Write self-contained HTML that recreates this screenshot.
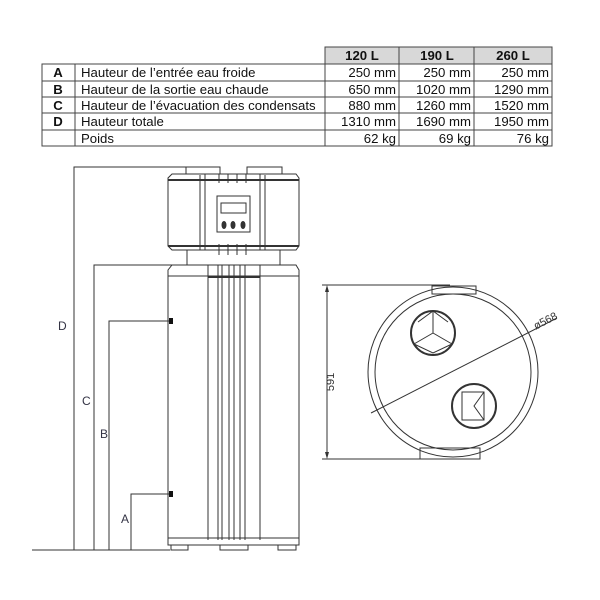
<!DOCTYPE html><html><head><style>body{margin:0;background:#fff}svg{display:block}text{font-family:"Liberation Sans",sans-serif}</style></head><body>
<svg width="600" height="600" viewBox="0 0 600 600" xmlns="http://www.w3.org/2000/svg">
<rect width="600" height="600" fill="#fff"/>
<g stroke="#444" stroke-width="1" fill="none">
<rect x="325" y="47" width="227" height="17" fill="#d8d8d8"/>
<rect x="42" y="64" width="510" height="82"/>
<line x1="325" y1="47" x2="325" y2="146"/><line x1="399" y1="47" x2="399" y2="146"/><line x1="474" y1="47" x2="474" y2="146"/>
<line x1="75" y1="64" x2="75" y2="146"/>
<line x1="42" y1="81" x2="552" y2="81"/><line x1="42" y1="97" x2="552" y2="97"/><line x1="42" y1="113" x2="552" y2="113"/><line x1="42" y1="130" x2="552" y2="130"/>
</g>
<g font-size="13.2" fill="#111">
<g font-weight="bold" text-anchor="middle"><text x="362" y="60">120 L</text><text x="437" y="60">190 L</text><text x="513" y="60">260 L</text>
<text x="58" y="77">A</text><text x="58" y="94">B</text><text x="58" y="110">C</text><text x="58" y="126">D</text></g>
<text x="81" y="77">Hauteur de l’entrée eau froide</text><text x="81" y="94">Hauteur de la sortie eau chaude</text><text x="81" y="110">Hauteur de l’évacuation des condensats</text><text x="81" y="126">Hauteur totale</text><text x="81" y="143">Poids</text>
<g text-anchor="end"><text x="396" y="77">250 mm</text><text x="471" y="77">250 mm</text><text x="549" y="77">250 mm</text>
<text x="396" y="94">650 mm</text><text x="471" y="94">1020 mm</text><text x="549" y="94">1290 mm</text>
<text x="396" y="110">880 mm</text><text x="471" y="110">1260 mm</text><text x="549" y="110">1520 mm</text>
<text x="396" y="126">1310 mm</text><text x="471" y="126">1690 mm</text><text x="549" y="126">1950 mm</text>
<text x="396" y="143">62 kg</text><text x="471" y="143">69 kg</text><text x="549" y="143">76 kg</text></g>
</g>
<g stroke="#333" stroke-width="1" fill="none">
<line x1="32" y1="550" x2="170" y2="550"/>
<polyline points="74,550 74,167 186,167"/><polyline points="94,550 94,265 187,265"/>
<polyline points="109,550 109,321 170,321"/><polyline points="131,550 131,494 170,494"/>
</g>
<rect x="169" y="318" width="4" height="6" fill="#111"/><rect x="169" y="491" width="4" height="6" fill="#111"/>
<g font-size="12" fill="#334"><text x="58" y="330">D</text><text x="82" y="405">C</text><text x="100" y="438">B</text><text x="121" y="523">A</text></g>
<g stroke="#333" stroke-width="1" fill="none">
<rect x="186" y="167" width="34" height="7"/><rect x="247" y="167" width="35" height="7"/>
<polygon points="172,174 296,174 299,178 299,246 296,250 172,250 168,246 168,178"/>
<line x1="168" y1="180" x2="299" y2="180" stroke-width="2"/><line x1="168" y1="246" x2="299" y2="246" stroke-width="2"/>
<line x1="200" y1="175" x2="200" y2="250"/><line x1="205" y1="174" x2="205" y2="250"/>
<line x1="260" y1="174" x2="260" y2="250"/><line x1="265" y1="175" x2="265" y2="250"/>
<g><line x1="219" y1="174" x2="219" y2="183"/><line x1="228" y1="174" x2="228" y2="183"/><line x1="237" y1="174" x2="237" y2="183"/><line x1="246" y1="174" x2="246" y2="183"/>
<line x1="219" y1="244" x2="219" y2="255"/><line x1="228" y1="244" x2="228" y2="255"/><line x1="237" y1="244" x2="237" y2="255"/><line x1="246" y1="244" x2="246" y2="255"/></g>
<rect x="217" y="196" width="33" height="36"/><rect x="221" y="203" width="25" height="10"/>
<rect x="187" y="250" width="93" height="15"/>
<polygon points="172,265 296,265 299,270 299,538 168,538 168,270"/>
<line x1="168" y1="276" x2="299" y2="276"/>
<line x1="208" y1="265" x2="208" y2="540"/><line x1="260" y1="265" x2="260" y2="540"/>
<line x1="218" y1="265" x2="218" y2="540"/><line x1="222" y1="265" x2="222" y2="540"/><line x1="229" y1="265" x2="229" y2="540"/><line x1="234" y1="265" x2="234" y2="540"/><line x1="240" y1="265" x2="240" y2="540"/><line x1="245" y1="265" x2="245" y2="540"/>
<line x1="208" y1="277" x2="260" y2="277" stroke-width="2"/>
<rect x="168" y="538" width="131" height="7"/>
<rect x="171" y="545" width="17" height="5"/><rect x="220" y="545" width="28" height="5"/><rect x="278" y="545" width="18" height="5"/>
</g>
<g fill="#333"><ellipse cx="224" cy="225" rx="2.5" ry="4"/><ellipse cx="233" cy="225" rx="2.5" ry="4"/><ellipse cx="243" cy="225" rx="2.5" ry="4"/></g>
<g stroke="#333" stroke-width="1" fill="none">
<line x1="322" y1="285" x2="450" y2="285"/><line x1="322" y1="459" x2="450" y2="459"/>
<line x1="327" y1="287" x2="327" y2="457"/>
<circle cx="453" cy="372" r="85"/><circle cx="453" cy="372" r="78"/>
<rect x="432" y="286" width="44" height="8"/>
<rect x="420" y="448" width="60" height="11"/>
<line x1="371" y1="413" x2="557" y2="318"/>
<circle cx="433" cy="333" r="22" stroke-width="2"/>
<line x1="433" y1="333" x2="433" y2="311"/><line x1="433" y1="333" x2="414" y2="344"/><line x1="433" y1="333" x2="452" y2="344"/>
<polyline points="418,322 433,311 448,322"/><polyline points="414,344 433,353 452,344"/>
<circle cx="474" cy="406" r="22" stroke-width="2"/>
<rect x="462" y="392" width="22" height="28"/><polyline points="484,392 474,406 484,420"/>
</g>
<polygon points="327,285 325,292 329,292" fill="#333"/><polygon points="327,459 325,452 329,452" fill="#333"/>
<text x="0" y="0" font-size="11" fill="#333" transform="translate(334,382) rotate(-90)" text-anchor="middle">591</text>
<text x="0" y="0" font-size="11" fill="#333" transform="translate(547,324) rotate(-27)" text-anchor="middle">ø568</text>
</svg>
</body></html>
